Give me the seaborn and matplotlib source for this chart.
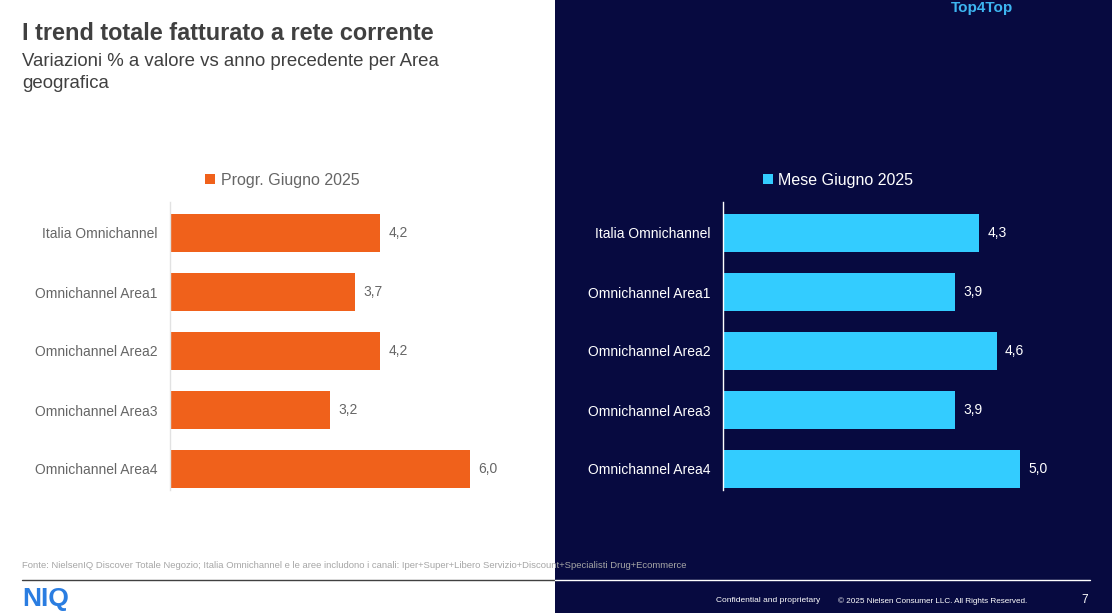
import pandas as pd
import matplotlib
matplotlib.use("Agg")
import matplotlib.pyplot as plt
from matplotlib.patches import Rectangle
import seaborn as sns

# data
areas = ["Italia Omnichannel", "Omnichannel Area1", "Omnichannel Area2",
         "Omnichannel Area3", "Omnichannel Area4"]
progr_values = [4.2, 3.7, 4.2, 3.2, 6.0]
mese_values = [4.3, 3.9, 4.6, 3.9, 5.0]
progr_label = "Progr. Giugno 2025"
mese_label = "Mese Giugno 2025"

title = "I trend totale fatturato a rete corrente"
subtitle_1 = "Variazioni % a valore vs anno precedente per Area"
subtitle_2 = "geografica"
source = ("Fonte: NielsenIQ Discover Totale Negozio; Italia Omnichannel e le aree "
          "includono i canali: Iper+Super+Libero Servizio+Discount+Specialisti "
          "Drug+Ecommerce")

ORANGE = "#F0611B"
CYAN = "#33CCFF"
NAVY = "#070A40"

sns.set_theme(style="white")
plt.rcParams["font.family"] = ["Liberation Sans", "DejaVu Sans"]

W, H = 1112, 613
fig = plt.figure(figsize=(W / 100, H / 100), dpi=100)
fig.patch.set_facecolor("white")

# dark right half of the slide, kept behind the axes
fig.patches.append(Rectangle((555 / W, 0), 1 - 555 / W, 1,
                             transform=fig.transFigure, facecolor=NAVY,
                             edgecolor="none", zorder=-10))


def px_axes(left, top, width, height):
    """axes placed with pixel coords measured from the top-left corner"""
    ax = fig.add_axes([left / W, (H - top - height) / H, width / W, height / H])
    ax.set_zorder(5)
    return ax


def draw_panel(ax, values, serie, color, text_color, spine_color, xmax,
               legend_x):
    df = pd.DataFrame({"area": areas, "value": values, "serie": serie})
    sns.barplot(data=df, y="area", x="value", hue="serie",
                palette={serie: color}, orient="h", width=0.64, ax=ax,
                saturation=1, legend=True, edgecolor="none", linewidth=0)
    ax.set_facecolor("none")
    ax.set_xlim(0, xmax)
    ax.set_ylim(4.5, -0.5)
    ax.set_xlabel("")
    ax.set_ylabel("")
    ax.set_xticks([])
    ax.tick_params(axis="y", length=0, pad=9, labelsize=10,
                   labelcolor=text_color)
    for side in ["top", "right", "bottom"]:
        ax.spines[side].set_visible(False)
    ax.spines["left"].set_color(spine_color)
    ax.spines["left"].set_linewidth(1)
    ax.spines["left"].set_bounds(-0.52, 4.35)
    for cont in ax.containers:
        ax.bar_label(cont, labels=[f"{v:.1f}".replace(".", ",") for v in values],
                     padding=6, fontsize=10, color=text_color)
    leg = ax.legend(loc="center", bbox_to_anchor=(legend_x / W, (H - 180) / H),
                    bbox_transform=fig.transFigure, frameon=False,
                    fontsize=11.5, handlelength=0.65, handleheight=0.65,
                    handletextpad=0.35, labelcolor=text_color)
    for handle in leg.get_patches():
        handle.set_edgecolor("none")
        handle.set_linewidth(0)


ax_left = px_axes(170, 203.5, 350, 295)
draw_panel(ax_left, progr_values, progr_label, ORANGE, "#666666", "#E2E2E2",
           7.0, 282)

ax_right = px_axes(723, 203.5, 354, 295)
draw_panel(ax_right, mese_values, mese_label, CYAN, "white", "white",
           5.95, 838)

# titles
fig.text(22 / W, 1 - 33 / H, title, fontsize=16.9, fontweight="bold",
         color="#404040", va="center", ha="left")
fig.text(22 / W, 1 - 61 / H, subtitle_1, fontsize=13.4, color="#404040",
         va="center", ha="left")
fig.text(22 / W, 1 - 84 / H, subtitle_2, fontsize=13.4, color="#404040",
         va="center", ha="left")
fig.text(982 / W, 1 - 8 / H, "Top4Top", fontsize=11, fontweight="bold",
         color="#3DB5F0", va="center", ha="center")

# footer
fig.text(22 / W, 1 - 566 / H, source, fontsize=6.8, color="#A6A6A6",
         va="center", ha="left")
fig.add_artist(plt.Line2D([22 / W, 555 / W], [1 - 580 / H] * 2,
                          color="#404040", lw=1, transform=fig.transFigure))
fig.add_artist(plt.Line2D([555 / W, 1090 / W], [1 - 580 / H] * 2,
                          color="white", lw=1, transform=fig.transFigure))
fig.text(22 / W, 1 - 599 / H, "NIQ", fontsize=19, fontweight="bold",
         color="#2A7DE1", va="center", ha="left")
fig.text(716 / W, 1 - 601 / H, "Confidential and proprietary", fontsize=6.0,
         color="white", va="center", ha="left")
fig.text(838 / W, 1 - 601 / H,
         "\u00a9 2025 Nielsen Consumer LLC. All Rights Reserved.", fontsize=5.9,
         color="white", va="center", ha="left")
fig.text(1085 / W, 1 - 600 / H, "7", fontsize=8.5, color="white",
         va="center", ha="center")

fig.savefig("out.png", dpi=100, facecolor=fig.get_facecolor())
